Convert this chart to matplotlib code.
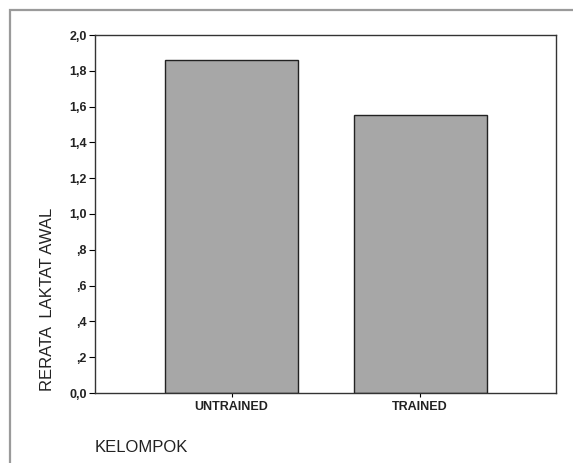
import matplotlib
matplotlib.use('Agg')
import matplotlib.pyplot as plt
from matplotlib.patches import Rectangle
from matplotlib.ticker import FuncFormatter

plt.rcParams['font.family'] = ['Liberation Sans', 'DejaVu Sans']

# data
kelompok = ['UNTRAINED', 'TRAINED']
rerata = [1.86, 1.553]

W, H = 573, 463
fig = plt.figure(figsize=(W / 100, H / 100), dpi=100)

# outer grey frame (SPSS style)
fig.patches.append(Rectangle((10 / W, -0.05), 1.2, (H - 10) / H + 0.05,
                             transform=fig.transFigure, fill=False,
                             edgecolor='#9a9a9a', linewidth=1.6))

ax = fig.add_axes([95 / W, 1 - 393 / H, (556 - 95) / W, (393 - 35) / H])
x = range(len(kelompok))
ax.bar(x, rerata, width=0.706, color='#a7a7a7', edgecolor='#222222', linewidth=1.0)

ax.set_xlim(-0.724, 1.72)
ax.set_ylim(0, 2.0)
ax.set_yticks([i / 5 for i in range(11)])


def fmt(v, pos):
    s = f'{v:.1f}'.replace('.', ',')
    if s.startswith('0,') and v > 0:
        s = s[1:]
    return s


ax.yaxis.set_major_formatter(FuncFormatter(fmt))
ax.set_xticks(list(x))
ax.set_xticklabels(kelompok, fontsize=9, fontweight='bold', color='#222222')
ax.tick_params(axis='y', labelsize=9, length=4, width=0.8, pad=2, labelcolor='#222222')
ax.tick_params(axis='x', length=3, width=0.8, pad=3, direction='out')
for lab in ax.get_yticklabels():
    lab.set_fontweight('bold')
for sp in ax.spines.values():
    sp.set_color('#333333')
    sp.set_linewidth(1.0)

fig.text(48 / W, 1 - 299 / H, 'RERATA  LAKTAT AWAL', rotation=90,
         ha='center', va='center', fontsize=12, color='#222222')
fig.text(95 / W, 1 - 447 / H, 'KELOMPOK', ha='left', va='center',
         fontsize=12, color='#222222')

fig.savefig('out.png', dpi=100)
